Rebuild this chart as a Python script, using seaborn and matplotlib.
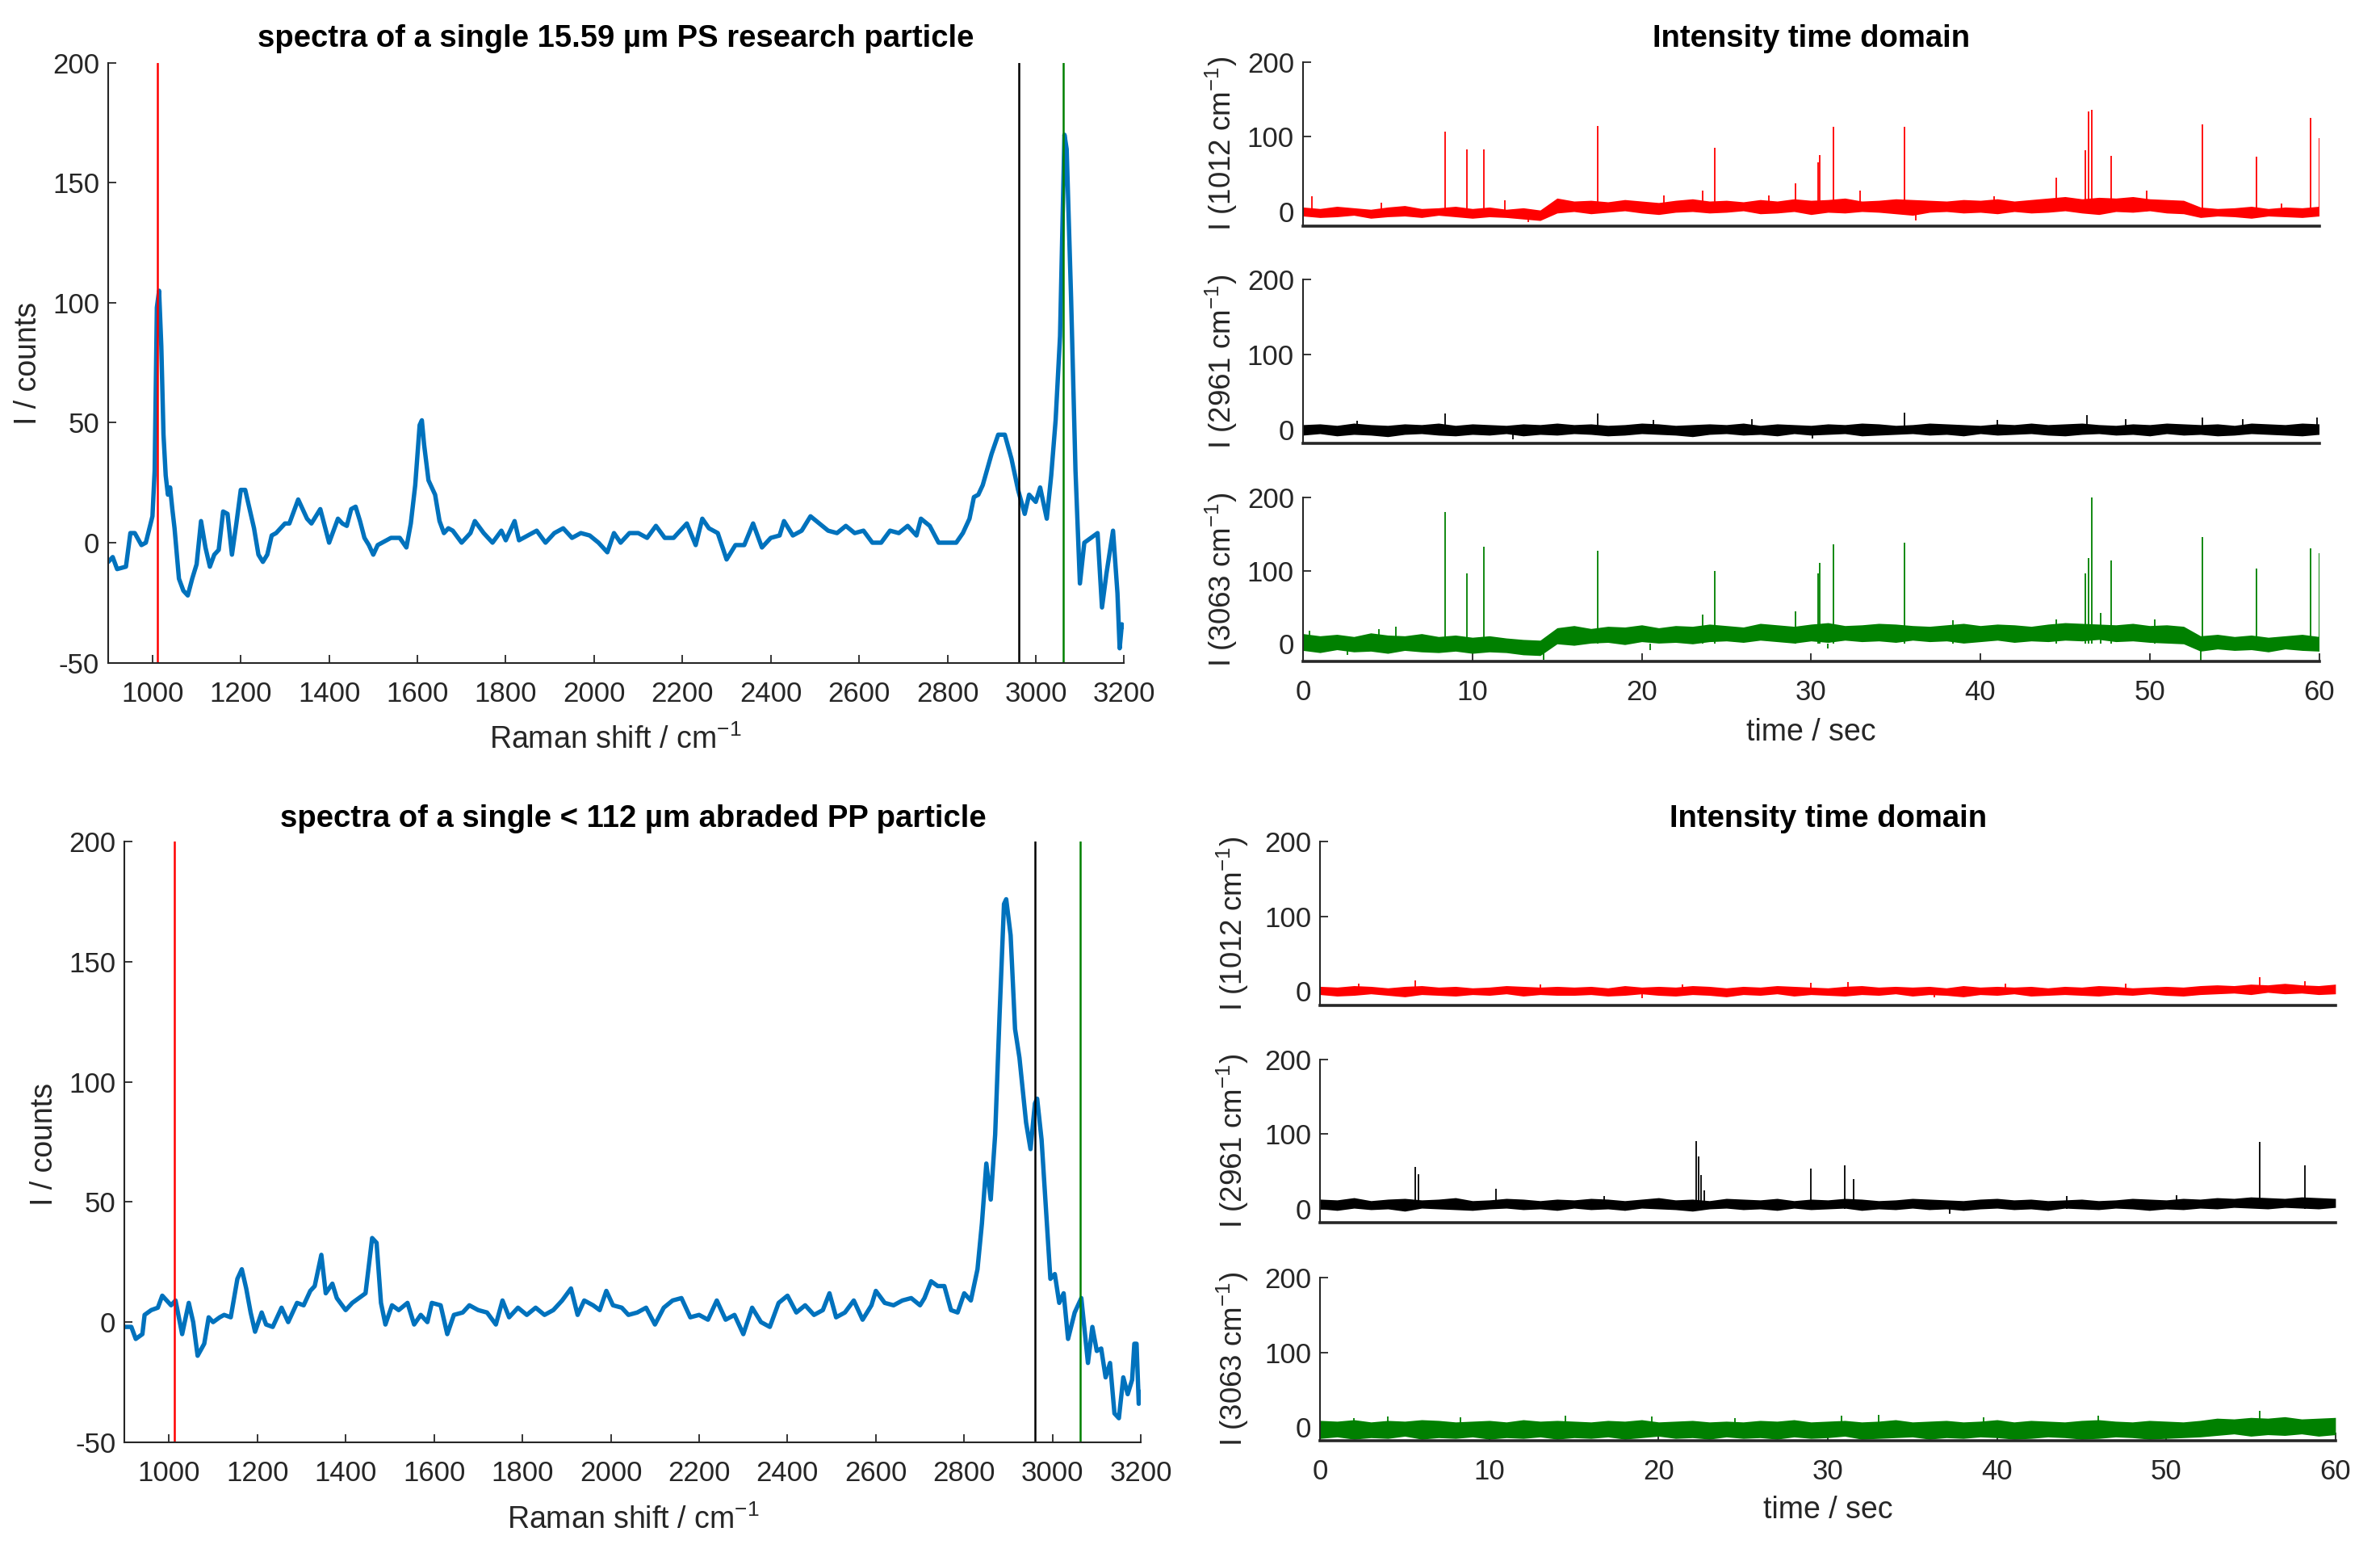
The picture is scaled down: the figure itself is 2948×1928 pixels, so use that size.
import numpy as np
import matplotlib
matplotlib.use('Agg')
import matplotlib.pyplot as plt
import seaborn as sns


# ---- Raman spectra (wavenumber / cm-1, intensity / counts) ----
ps_shift = [900, 910, 920, 940, 950, 960, 975, 985, 1000, 1005, 1010, 1015, 1020, 1025, 1030, 1035, 1040, 1045,
            1050, 1060, 1070, 1080, 1090, 1100, 1110, 1120, 1130, 1140, 1150, 1160, 1170, 1180, 1190, 1200, 1210,
            1220, 1230, 1240, 1250, 1260, 1270, 1280, 1290, 1300, 1310, 1320, 1330, 1340, 1350, 1360, 1370, 1380,
            1390, 1400, 1410, 1420, 1430, 1440, 1450, 1460, 1470, 1480, 1490, 1500, 1510, 1520, 1540, 1560, 1575,
            1585, 1595, 1605, 1610, 1615, 1625, 1640, 1650, 1660, 1670, 1680, 1700, 1720, 1730, 1750, 1770, 1790,
            1800, 1820, 1830, 1850, 1870, 1890, 1910, 1930, 1950, 1970, 1990, 2010, 2030, 2045, 2060, 2080, 2100,
            2120, 2140, 2160, 2180, 2200, 2210, 2230, 2245, 2260, 2280, 2300, 2320, 2340, 2360, 2380, 2400, 2420,
            2430, 2450, 2470, 2490, 2510, 2530, 2550, 2570, 2590, 2610, 2630, 2650, 2670, 2690, 2710, 2730, 2740,
            2760, 2780, 2800, 2820, 2835, 2850, 2860, 2870, 2880, 2900, 2915, 2930, 2945, 2960, 2975, 2985, 3000,
            3010, 3025, 3035, 3045, 3055, 3065, 3070, 3080, 3090, 3100, 3110, 3125, 3140, 3150, 3160, 3175, 3185,
            3190, 3195, 3200]
ps_counts = [-8, -6, -11, -10, 4, 4, -1, 0, 11, 30, 98, 105, 82, 45, 28, 20, 23, 14,
             6, -15, -20, -22, -15, -9, 9, -2, -10, -5, -3, 13, 12, -5, 8, 22, 22,
             14, 6, -5, -8, -5, 3, 4, 6, 8, 8, 13, 18, 14, 10, 8, 11, 14,
             7, 0, 5, 10, 8, 7, 14, 15, 9, 2, -1, -5, -1, 0, 2, 2, -2,
             8, 24, 49, 51, 41, 26, 20, 9, 4, 6, 5, 0, 4, 9, 4, 0, 5,
             1, 9, 1, 3, 5, 0, 4, 6, 2, 4, 3, 0, -4, 4, 0, 4, 4,
             2, 7, 2, 2, 6, 8, -1, 10, 6, 4, -7, -1, -1, 8, -2, 2, 3,
             9, 3, 5, 11, 8, 5, 4, 7, 4, 5, 0, 0, 5, 4, 7, 3, 10,
             7, 0, 0, 0, 4, 10, 19, 20, 24, 37, 45, 45, 35, 22, 12, 20, 17,
             23, 10, 28, 51, 86, 170, 164, 102, 30, -17, 0, 2, 4, -27, -13, 5, -21,
             -44, -34, -35]

pp_shift = [900, 915, 925, 940, 945, 960, 975, 985, 995, 1005, 1015, 1030, 1045, 1055, 1065, 1080, 1090, 1100,
            1115, 1125, 1140, 1155, 1165, 1175, 1185, 1195, 1210, 1220, 1235, 1255, 1270, 1290, 1305, 1320, 1330,
            1345, 1355, 1370, 1380, 1400, 1415, 1430, 1445, 1460, 1470, 1480, 1490, 1505, 1520, 1540, 1555, 1570,
            1585, 1595, 1615, 1630, 1645, 1665, 1680, 1700, 1720, 1740, 1755, 1770, 1790, 1810, 1830, 1850, 1870,
            1890, 1910, 1925, 1940, 1960, 1975, 1990, 2005, 2025, 2040, 2060, 2080, 2100, 2120, 2140, 2160, 2180,
            2200, 2220, 2240, 2260, 2280, 2300, 2320, 2340, 2360, 2380, 2400, 2420, 2440, 2460, 2480, 2495, 2510,
            2530, 2550, 2570, 2590, 2600, 2620, 2640, 2660, 2680, 2700, 2710, 2725, 2740, 2755, 2770, 2785, 2800,
            2815, 2830, 2840, 2850, 2860, 2870, 2880, 2890, 2895, 2905, 2915, 2925, 2940, 2950, 2960, 2965, 2975,
            2985, 2995, 3005, 3015, 3025, 3035, 3050, 3065, 3080, 3090, 3100, 3110, 3120, 3130, 3140, 3150, 3160,
            3170, 3180, 3185, 3190, 3195, 3200]
pp_counts = [-2, -2, -7, -5, 3, 5, 6, 11, 9, 7, 9, -5, 8, 0, -14, -9, 2, 0,
             2, 3, 2, 18, 22, 14, 4, -4, 4, -1, -2, 6, 0, 8, 7, 13, 15,
             28, 12, 16, 10, 5, 8, 10, 12, 35, 33, 8, -1, 7, 5, 8, -1, 3,
             0, 8, 7, -5, 3, 4, 7, 5, 4, -1, 9, 2, 6, 3, 6, 3, 5,
             9, 14, 3, 9, 7, 5, 13, 7, 6, 3, 4, 6, -1, 6, 9, 10, 2,
             3, 1, 9, 1, 3, -5, 6, 0, -2, 8, 11, 4, 7, 3, 5, 12, 2,
             4, 9, 1, 7, 13, 8, 7, 9, 10, 7, 10, 17, 15, 15, 5, 4, 12,
             9, 22, 41, 66, 51, 78, 128, 174, 176, 161, 122, 110, 83, 72, 91, 93, 76,
             47, 18, 20, 8, 12, -7, 4, 10, -17, -2, -12, -11, -23, -17, -38, -40, -23,
             -30, -24, -9, -9, -34, -29]

# marker bands and their colours
band_pos = [1012, 2961, 3063]
band_colors = ['#ff0000', '#000000', '#008000']

# ---- intensity in time domain: noise envelope (low/high, one value per second) + single spikes ----
t_env = list(range(0, 61))

ps1012_lo = [-6, -8, -7, -5, -9, -7, -6, -8, -5, -7,
             -9, -7, -8, -10, -12,
             -2, 0, -3, -1, 1, -2, -4, -1, 0, -2,
             -1, 1, -3, -2, 0, -4, -1, -2, 0, -1,
             -3, -5, -1, 0, -2, -1, -3, 0, -2, -1,
             1, -2, -4, 0, -1, 1, -2, -3,
             -8, -6, -7, -9, -6, -7, -8, -6]
ps1012_hi = [6, 4, 7, 5, 3, 6, 8, 4, 5, 7,
             4, 6, 3, 5, 2,
             18, 14, 15, 13, 16, 14, 12, 15, 17, 14,
             15, 13, 16, 14, 17, 15, 16, 18, 14, 15,
             17, 16, 15, 14, 16, 15, 17, 14, 16, 18,
             20, 17, 19, 18, 20, 17, 16, 15,
             6, 4, 5, 7, 4, 6, 5, 7]
ps1012_spk_t = [0.5, 8.4, 9.7, 10.7, 11.9, 17.4, 23.6, 24.3, 29.1, 30.4, 30.5, 31.3, 32.9, 35.5, 44.5, 46.2,
                46.4, 46.6, 47.7, 49.8, 53.1, 56.3, 59.5, 60.0, 13.3, 27.5, 36.2, 4.6, 21.3, 40.8, 57.8]
ps1012_spk_h = [20, 107, 83, 83, 15, 114, 28, 85, 38, 66, 76, 113, 28, 113, 45, 82,
                134, 136, 75, 28, 117, 74, 125, 98, -14, 22, -12, 12, 22, 21, 11]

ps2961_lo = [-7, -5, -8, -6, -7, -9, -6, -5, -7, -8,
             -6, -7, -5, -8, -6,
             -7, -5, -6, -8, -7, -5, -6, -7, -9, -6,
             -5, -7, -6, -8, -5, -7, -6, -5, -8, -7,
             -6, -5, -7, -6, -8, -5, -7, -6, -5, -7,
             -8, -6, -5, -7, -6, -8, -5, -7,
             -6, -8, -7, -5, -6, -7, -8, -6]
ps2961_hi = [7, 8, 6, 9, 7, 6, 8, 7, 9, 6,
             8, 7, 6, 8, 7,
             9, 7, 8, 6, 7, 9, 8, 6, 7, 8,
             7, 9, 6, 8, 7, 6, 8, 7, 9, 8,
             6, 7, 9, 8, 7, 6, 8, 7, 9, 7,
             8, 9, 7, 6, 8, 7, 9, 8,
             7, 8, 6, 9, 8, 7, 9, 8]
ps2961_spk_t = [8.4, 17.4, 35.5, 46.3, 53.1, 59.9, 3.2, 26.5, 41.0, 55.5, 12.4, 30.1, 20.7, 48.6]
ps2961_spk_h = [22, 22, 23, 20, 17, 17, 12, 14, 13, 14, -12, -11, 13, 14]

ps3063_lo = [-9, -12, -8, -11, -10, -13, -9, -11, -12, -10,
             -13, -11, -12, -15, -16,
             0, -2, 1, 2, -1, 3, 1, 2, 0, 3,
             4, 2, 5, 3, 1, 4, 2, 5, 3, 4,
             2, 5, 3, 4, 1, 3, 5, 2, 4, 3,
             5, 4, 6, 3, 4, 2, 1, 0,
             -10, -7, -9, -8, -11, -7, -9, -10]
ps3063_hi = [14, 11, 13, 10, 15, 12, 11, 14, 10, 12,
             9, 11, 8, 6, 5,
             22, 25, 21, 24, 23, 26, 22, 25, 24, 27,
             25, 23, 28, 26, 24, 27, 29, 25, 26, 28,
             27, 25, 24, 26, 28, 25, 27, 26, 24, 27,
             29, 28, 27, 26, 28, 25, 26, 24,
             11, 13, 10, 12, 9, 11, 13, 10]
ps3063_spk_t = [0.4, 4.5, 5.5, 8.4, 9.7, 10.7, 17.4, 23.6, 24.3, 29.1, 30.4, 30.5, 31.3, 35.5, 44.5, 46.2,
                46.4, 46.6, 47.1, 47.7, 53.0, 53.1, 56.3, 59.5, 60.0, 14.2, 20.5, 31.0, 2.6, 38.4, 50.3]
ps3063_spk_h = [18, 20, 24, 181, 96, 133, 127, 40, 100, 45, 96, 111, 136, 139, 33, 97,
                118, 200, 42, 114, -24, 146, 103, 131, 124, -22, -8, -6, -15, 32, 33]

pp1012_lo = [-5, -7, -6, -4, -6, -8, -5, -6, -7, -5,
             -6, -4, -7, -5, -6,
             -6, -5, -7, -6, -4, -6, -7, -5, -6, -8,
             -5, -6, -4, -7, -5, -6, -7, -5, -6, -4,
             -7, -5, -6, -8, -5, -6, -4, -7, -6, -5,
             -6, -7, -5, -6, -4, -6, -7, -5,
             -4, -3, -5, -2, -4, -3, -5, -4]
pp1012_hi = [6, 5, 7, 6, 4, 6, 7, 5, 6, 4,
             5, 7, 6, 5, 6,
             5, 6, 4, 7, 5, 6, 5, 7, 6, 4,
             6, 5, 7, 6, 5, 4, 6, 7, 5, 6,
             5, 6, 4, 7, 5, 6, 5, 6, 4, 6,
             5, 7, 6, 4, 5, 6, 5, 7,
             8, 7, 9, 8, 10, 8, 7, 9]
pp1012_spk_t = [5.6, 13.0, 29.0, 31.2, 40.5, 55.5, 58.2, 2.3, 21.4, 47.6, 19.0, 36.3]
pp1012_spk_h = [14, 9, 11, 12, 10, 18, 13, 10, 9, 10, -10, -9]

pp2961_lo = [0, -2, 1, -1, 0, -3, 1, 0, -1, -2,
             0, 1, -1, 0, -2,
             1, -1, 0, -2, 1, 0, -1, -3, 0, 1,
             -1, 0, -2, 1, -1, 0, 1, -2, 0, -1,
             1, -1, 0, -2, 0, 1, -1, 0, -2, 1,
             0, -1, 1, 0, -2, 0, -1, 1,
             0, 2, 1, 0, 2, 1, 0, 2]
pp2961_hi = [13, 12, 15, 11, 13, 14, 12, 13, 15, 11,
             12, 14, 13, 11, 13,
             12, 14, 13, 11, 13, 15, 12, 13, 11, 14,
             13, 12, 14, 11, 13, 12, 14, 13, 11, 12,
             14, 13, 12, 11, 13, 14, 12, 13, 11, 12,
             13, 11, 12, 14, 13, 12, 14, 13,
             15, 14, 16, 15, 14, 16, 15, 14]
pp2961_spk_t = [5.6, 5.8, 10.4, 16.8, 22.2, 22.35, 22.5, 22.7, 29.0, 31.0, 31.5, 50.6, 55.5, 58.2, 37.2, 44.1]
pp2961_spk_h = [56, 46, 27, 17, 91, 70, 45, 25, 54, 58, 40, 18, 89, 58, -6, 17]

pp3063_lo = [-15, -13, -16, -14, -15, -12, -16, -14, -15, -13,
             -16, -14, -15, -13, -16,
             -14, -15, -13, -16, -14, -12, -15, -14, -16, -13,
             -15, -14, -16, -13, -15, -14, -12, -16, -15, -14,
             -13, -16, -14, -15, -13, -14, -16, -15, -13, -14,
             -16, -15, -13, -14, -16, -15, -14, -13,
             -11, -9, -12, -10, -11, -9, -12, -10]
pp3063_hi = [9, 8, 10, 7, 9, 8, 10, 9, 7, 8,
             9, 7, 10, 8, 9,
             8, 7, 9, 8, 10, 7, 8, 9, 7, 8,
             7, 9, 8, 10, 7, 8, 9, 7, 8, 10,
             7, 8, 9, 7, 8, 10, 7, 9, 8, 7,
             9, 10, 8, 7, 9, 8, 7, 9,
             12, 11, 13, 12, 14, 11, 12, 13]
pp3063_spk_t = [2.0, 4.0, 14.5, 24.5, 30.8, 33.0, 46.0, 55.5, 8.3, 19.6, 39.2]
pp3063_spk_h = [12, 14, 15, 12, 15, 17, 15, 22, 13, 14, 13]

time_ylabels = ['I (1012 cm$^{-1}$)', 'I (2961 cm$^{-1}$)', 'I (3063 cm$^{-1}$)']


sns.set_theme(style='ticks')
plt.rcParams['font.family'] = ['Liberation Sans', 'DejaVu Sans']
plt.rcParams['mathtext.fontset'] = 'custom'
plt.rcParams['mathtext.rm'] = 'Liberation Sans'
plt.rcParams['mathtext.it'] = 'Liberation Sans:italic'
plt.rcParams['axes.unicode_minus'] = False
plt.rcParams['axes.edgecolor'] = '#262626'
plt.rcParams['axes.linewidth'] = 1.5

FS_TICK = 25
FS_LABEL = 27
FS_YLAB_T = 26.5
FS_TITLE = 27.5
TXT = '#262626'


def style_axes(ax):
    sns.despine(ax=ax)
    ax.tick_params(direction='in', length=7, width=1.3, labelsize=FS_TICK, colors=TXT)
    ax.tick_params(axis='x', pad=16)
    ax.tick_params(axis='y', pad=8)


def plot_spectrum(ax, shift, counts):
    sns.lineplot(x=shift, y=counts, ax=ax, color='#0072bd', linewidth=3.9, sort=False)
    for pos, col in zip(band_pos, band_colors):
        ax.axvline(pos, color=col, linewidth=1.8)
    ax.set_xlim(900, 3200)
    ax.set_ylim(-50, 200)
    ax.set_xticks(range(1000, 3201, 200))
    ax.set_yticks(range(-50, 201, 50))
    ax.set_xlabel('')
    ax.set_ylabel('')
    style_axes(ax)


def plot_trace(ax, lo, hi, spk_t, spk_h, color, ymin, show_x):
    ax.fill_between(t_env, lo, hi, color=color, linewidth=0)
    ax.vlines(spk_t, 0, spk_h, color=color, linewidth=1.3)
    ax.set_xlim(0, 60)
    ax.set_ylim(ymin, 200)
    ax.set_yticks([0, 100, 200])
    ax.set_xticks(range(0, 61, 10))
    style_axes(ax)
    ax.spines['bottom'].set_linewidth(2.6)
    if not show_x:
        ax.tick_params(axis='x', length=0, labelbottom=False)


fig = plt.figure(figsize=(29.48, 19.28), dpi=100)

# left column: spectra
ax_ps = fig.add_axes([0.0455, 0.5744, 0.4268, 0.3853])
plot_spectrum(ax_ps, ps_shift, ps_counts)
ax_pp = fig.add_axes([0.0524, 0.0737, 0.4270, 0.3858])
plot_spectrum(ax_pp, pp_shift, pp_counts)

fig.text(0.2588, 0.9752, 'spectra of a single 15.59 µm PS research particle', ha='center', va='center',
         fontsize=FS_TITLE, fontweight='bold', color='black')
fig.text(0.2585, 0.5250, 'Raman shift / cm$^{-1}$', ha='center', va='center', fontsize=FS_LABEL, color=TXT)
fig.text(0.0119, 0.7666, 'I / counts', ha='center', va='center', rotation=90, fontsize=FS_LABEL, color=TXT)

fig.text(0.2660, 0.4741, 'spectra of a single < 112 µm abraded PP particle', ha='center', va='center',
         fontsize=FS_TITLE, fontweight='bold', color='black')
fig.text(0.2660, 0.0240, 'Raman shift / cm$^{-1}$', ha='center', va='center', fontsize=FS_LABEL, color=TXT)
fig.text(0.0187, 0.2650, 'I / counts', ha='center', va='center', rotation=90, fontsize=FS_LABEL, color=TXT)

# right column: time domain traces
ps_traces = [(ps1012_lo, ps1012_hi, ps1012_spk_t, ps1012_spk_h, -19),
             (ps2961_lo, ps2961_hi, ps2961_spk_t, ps2961_spk_h, -18),
             (ps3063_lo, ps3063_hi, ps3063_spk_t, ps3063_spk_h, -24)]
pp_traces = [(pp1012_lo, pp1012_hi, pp1012_spk_t, pp1012_spk_h, -19),
             (pp2961_lo, pp2961_hi, pp2961_spk_t, pp2961_spk_h, -18),
             (pp3063_lo, pp3063_hi, pp3063_spk_t, pp3063_spk_h, -18)]

ps_bottoms = [0.8550, 0.7152, 0.5752]
pp_bottoms = [0.3545, 0.2149, 0.0747]

for i, (lo, hi, st, sh, ymin) in enumerate(ps_traces):
    ax = fig.add_axes([0.5475, ps_bottoms[i], 0.4269, 0.1051])
    plot_trace(ax, lo, hi, st, sh, band_colors[i], ymin, i == 2)
    fig.text(0.5132, ps_bottoms[i] + 0.0525, time_ylabels[i], ha='center', va='center', rotation=90,
             fontsize=FS_YLAB_T, color=TXT)

for i, (lo, hi, st, sh, ymin) in enumerate(pp_traces):
    ax = fig.add_axes([0.5547, pp_bottoms[i], 0.4266, 0.1048])
    plot_trace(ax, lo, hi, st, sh, band_colors[i], ymin, i == 2)
    fig.text(0.5180, pp_bottoms[i] + 0.0524, time_ylabels[i], ha='center', va='center', rotation=90,
             fontsize=FS_YLAB_T, color=TXT)

fig.text(0.7609, 0.9751, 'Intensity time domain', ha='center', va='center', fontsize=FS_TITLE,
         fontweight='bold', color='black')
fig.text(0.7609, 0.5296, 'time / sec', ha='center', va='center', fontsize=FS_LABEL, color=TXT)
fig.text(0.7680, 0.4743, 'Intensity time domain', ha='center', va='center', fontsize=FS_TITLE,
         fontweight='bold', color='black')
fig.text(0.7680, 0.0300, 'time / sec', ha='center', va='center', fontsize=FS_LABEL, color=TXT)

fig.savefig('out.png', dpi=100, facecolor='white')
